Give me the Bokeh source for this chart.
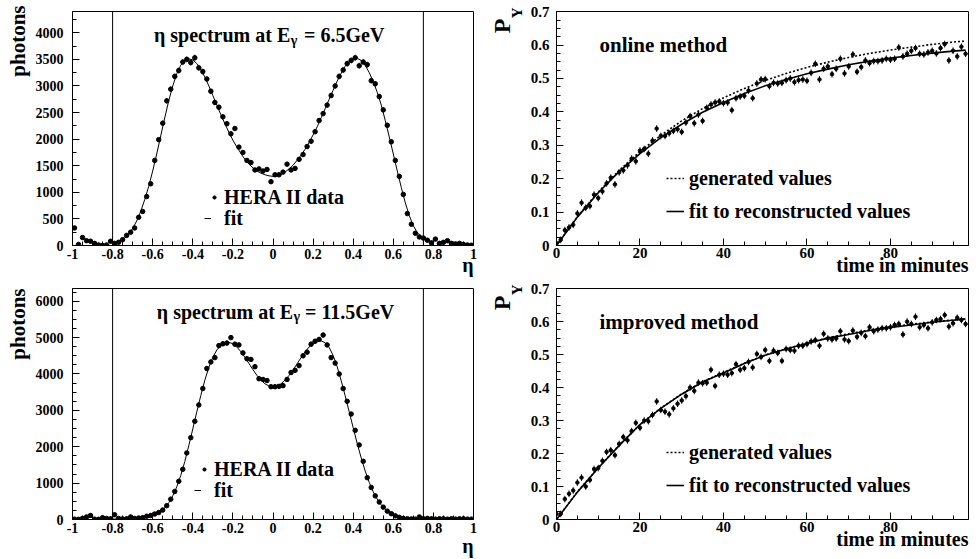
import numpy as np
from bokeh.plotting import figure
from bokeh.layouts import gridplot
from bokeh.models import Label, Legend, LegendItem, FixedTicker, Span, Range1d, Title
from bokeh.embed import file_html
from bokeh.resources import INLINE

FONT = "Liberation Serif"

# ---------------- data: eta spectra ----------------
eta_bins = [round(-0.99 + 0.02 * i, 2) for i in range(100)]
photons_6p5 = [330, 20, 150, 90, 80, 40, 10, 0, 10, 80,
               40, 60, 110, 190, 250, 330, 530, 640, 920, 1160,
               1600, 1990, 2300, 2720, 2940, 3180, 3290, 3450, 3500, 3440,
               3530, 3340, 3270, 3130, 2900, 2690, 2600, 2420, 2290, 2100,
               2200, 1850, 1750, 1600, 1560, 1420, 1440, 1400, 1430, 1200,
               1330, 1330, 1380, 1530, 1420, 1450, 1620, 1710, 1860, 1960,
               2140, 2350, 2480, 2640, 2820, 3000, 3180, 3300, 3420, 3480,
               3530, 3380, 3450, 3400, 3100, 3040, 2800, 2550, 2260, 1950,
               1600, 1300, 960, 600, 400, 230, 160, 140, 100, 50,
               120, 40, 60, 90, 40, 30, 40, 20, 10, 5]
photons_11p5 = [10, 5, 30, 70, 110, 10, 5, 50, 30, 20,
                130, 30, 15, 20, 70, 30, 40, 50, 90, 110,
                150, 190, 260, 380, 560, 770, 1050, 1380, 1830, 2250,
                2700, 3150, 3600, 4150, 4330, 4450, 4780, 4830, 4850, 5000,
                4820, 4800, 4580, 4420, 4400, 4200, 3870, 3850, 3820, 3650,
                3650, 3660, 3680, 3850, 4040, 4100, 4230, 4500, 4600, 4820,
                4900, 4950, 5070, 4800, 4450, 4300, 4000, 3600, 3250, 2900,
                2450, 2050, 1600, 1150, 880, 650, 480, 340, 230, 160,
                100, 60, 30, 20, 15, 10, 70, 20, 30, 20,
                10, 20, 20, 10, 20, 10, 20, 20, 10, 10]
eta_fit = [round(-0.80 + 0.02 * i, 2) for i in range(79)]
fit_6p5 = [15, 40, 80, 140, 220, 320, 460, 640, 860, 1110,
           1400, 1720, 2060, 2400, 2720, 3000, 3230, 3390, 3480, 3510,
           3490, 3420, 3310, 3170, 3000, 2820, 2640, 2460, 2290, 2130,
           1980, 1850, 1730, 1620, 1530, 1460, 1400, 1360, 1330, 1310,
           1300, 1310, 1340, 1380, 1440, 1510, 1600, 1700, 1810, 1940,
           2080, 2230, 2400, 2570, 2750, 2920, 3090, 3240, 3370, 3460,
           3510, 3520, 3480, 3390, 3250, 3080, 2880, 2640, 2350, 2040,
           1720, 1400, 1090, 800, 560, 370, 240, 170, 130]
fit_11p5 = [10, 12, 15, 18, 22, 28, 35, 45, 60, 95,
            125, 170, 230, 320, 460, 650, 900, 1210, 1590, 2030,
            2490, 2960, 3410, 3830, 4180, 4460, 4660, 4790, 4860, 4870,
            4830, 4740, 4610, 4460, 4290, 4120, 3960, 3830, 3730, 3670,
            3650, 3670, 3730, 3830, 3960, 4110, 4280, 4450, 4610, 4740,
            4840, 4900, 4910, 4860, 4730, 4510, 4200, 3820, 3400, 2960,
            2520, 2090, 1690, 1330, 1020, 760, 560, 400, 280, 190,
            130, 90, 60, 40, 30, 20, 15, 12, 10]
eta_cuts = [-0.8, 0.75]

# ---------------- data: polarisation build-up ----------------
py_online = [0.007, 0.017, 0.046, 0.054, 0.062, 0.096, 0.128, 0.113, 0.118, 0.152,
             0.142, 0.162, 0.186, 0.203, 0.183, 0.219, 0.225, 0.240, 0.260, 0.252,
             0.284, 0.289, 0.275, 0.314, 0.350, 0.328, 0.328, 0.336, 0.343, 0.348,
             0.340, 0.368, 0.387, 0.366, 0.392, 0.373, 0.412, 0.422, 0.428, 0.431,
             0.426, 0.428, 0.405, 0.441, 0.446, 0.448, 0.464, 0.441, 0.485, 0.497,
             0.498, 0.477, 0.487, 0.485, 0.487, 0.495, 0.500, 0.489, 0.495, 0.497,
             0.493, 0.517, 0.544, 0.497, 0.529, 0.536, 0.513, 0.529, 0.559, 0.515,
             0.536, 0.572, 0.520, 0.534, 0.554, 0.546, 0.552, 0.552, 0.554, 0.559,
             0.556, 0.559, 0.593, 0.566, 0.574, 0.583, 0.591, 0.574, 0.572, 0.578,
             0.583, 0.575, 0.591, 0.603, 0.554, 0.583, 0.566, 0.595, 0.574]
py_improved = [0.017, 0.017, 0.062, 0.078, 0.088, 0.112, 0.127, 0.100, 0.120, 0.153,
               0.156, 0.178, 0.205, 0.210, 0.195, 0.229, 0.250, 0.240, 0.268, 0.293,
               0.278, 0.300, 0.298, 0.317, 0.358, 0.332, 0.327, 0.319, 0.337, 0.351,
               0.361, 0.374, 0.400, 0.390, 0.415, 0.413, 0.415, 0.454, 0.405, 0.439,
               0.442, 0.439, 0.444, 0.471, 0.454, 0.459, 0.478, 0.461, 0.502, 0.493,
               0.514, 0.481, 0.512, 0.505, 0.481, 0.517, 0.514, 0.512, 0.527, 0.527,
               0.532, 0.540, 0.544, 0.527, 0.563, 0.549, 0.546, 0.549, 0.571, 0.546,
               0.541, 0.573, 0.554, 0.566, 0.556, 0.583, 0.571, 0.576, 0.580, 0.580,
               0.583, 0.590, 0.593, 0.561, 0.600, 0.593, 0.615, 0.583, 0.590, 0.580,
               0.598, 0.605, 0.608, 0.620, 0.585, 0.595, 0.612, 0.605, 0.593]
minutes = list(range(len(py_online)))
py_err = 0.01
t_curve = [0, 5, 10, 15, 20, 25, 30, 35, 40, 45, 50, 55, 60, 65, 70, 75, 80, 85, 90, 95, 98]
online_generated = [0, 0.086, 0.160, 0.225, 0.281, 0.330, 0.373, 0.410, 0.442, 0.470, 0.494,
                    0.515, 0.533, 0.549, 0.563, 0.575, 0.585, 0.594, 0.602, 0.609, 0.612]
online_fit = [0, 0.085, 0.158, 0.221, 0.275, 0.323, 0.363, 0.399, 0.428, 0.455, 0.478,
              0.497, 0.514, 0.528, 0.541, 0.552, 0.561, 0.569, 0.576, 0.582, 0.585]
improved_generated = [0, 0.084, 0.157, 0.225, 0.288, 0.338, 0.381, 0.418, 0.446, 0.474, 0.499,
                      0.518, 0.535, 0.551, 0.563, 0.575, 0.584, 0.592, 0.599, 0.605, 0.609]
improved_fit = [0, 0.083, 0.156, 0.224, 0.288, 0.337, 0.380, 0.417, 0.444, 0.473, 0.498,
                0.517, 0.534, 0.550, 0.561, 0.573, 0.582, 0.590, 0.598, 0.604, 0.608]

# ---------------- ticks ----------------
eta_ticks = [-1, -0.8, -0.6, -0.4, -0.2, 0, 0.2, 0.4, 0.6, 0.8, 1]
eta_tick_labels = ["-1", "-0.8", "-0.6", "-0.4", "-0.2", "0", "0.2", "0.4", "0.6", "0.8", "1"]
ph_ticks_top = [0, 500, 1000, 1500, 2000, 2500, 3000, 3500, 4000]
ph_ticks_bot = [0, 1000, 2000, 3000, 4000, 5000, 6000]
t_ticks = [0, 20, 40, 60, 80]
py_ticks = [0, 0.1, 0.2, 0.3, 0.4, 0.5, 0.6, 0.7]
py_tick_labels = ["0", "0.1", "0.2", "0.3", "0.4", "0.5", "0.6", "0.7"]

LEFT_W, RIGHT_W = 482, 494
TOP_H, BOT_H = 279, 280


def style_axis(ax, ticks, minor, labels=None, size="14px", standoff=4):
    ax.ticker = FixedTicker(ticks=ticks, minor_ticks=minor)
    if labels is not None:
        ax.major_label_overrides = {t: l for t, l in zip(ticks, labels)}
    ax.major_tick_in = 7
    ax.major_tick_out = 0
    ax.minor_tick_in = 4
    ax.minor_tick_out = 0
    ax.major_tick_line_color = "black"
    ax.minor_tick_line_color = "black"
    ax.axis_line_color = "black"
    ax.major_label_text_font = FONT
    ax.major_label_text_font_style = "bold"
    ax.major_label_text_font_size = size
    ax.major_label_text_color = "black"
    ax.major_label_standoff = standoff


def make_fig(w, h, xr, yr, bl, br, bt, bb):
    p = figure(width=w, height=h, x_range=Range1d(*xr), y_range=Range1d(*yr),
               output_backend="svg", toolbar_location=None,
               min_border_left=bl, min_border_right=br,
               min_border_top=bt, min_border_bottom=bb)
    p.xgrid.visible = False
    p.ygrid.visible = False
    p.outline_line_color = "black"
    p.outline_line_alpha = 1.0
    p.outline_line_width = 1
    p.background_fill_color = "white"
    p.border_fill_color = "white"
    return p


def txt(p, x, y, s, size="20px", align="left", baseline="alphabetic"):
    p.add_layout(Label(x=x, y=y, text=s, text_font=FONT, text_font_style="bold",
                       text_font_size=size, text_color="black", text_align=align,
                       text_baseline=baseline))


def side_title(p, s, place, size, align, valign, standoff, offset=0):
    t = Title(text=s, align=align, vertical_align=valign, standoff=standoff, offset=offset,
              text_font=FONT, text_font_style="bold", text_font_size=size, text_color="black")
    p.add_layout(t, place)


def legend(p, renderer, label, vx, vy, gw, standoff):
    lg = Legend(items=[LegendItem(label=label, renderers=[renderer])], location=(vx, vy),
                glyph_width=gw, glyph_height=26, label_height=26, label_standoff=standoff,
                padding=0, margin=0, spacing=0, border_line_color=None,
                background_fill_alpha=0.0, label_text_font=FONT,
                label_text_font_style="bold", label_text_font_size="20px",
                label_text_color="black")
    p.add_layout(lg)


def eta_panel(h, ymax, bt, bb, counts, fit, yticks, yminor, energy,
              title_y, gam_y, e_end, eq_start, leg_pos, eta_standoff, phot_offset):
    p = make_fig(LEFT_W, h, (-1, 1), (0, ymax), 66, LEFT_W - 473, bt, bb)
    style_axis(p.xaxis[0], eta_ticks, list(np.arange(-1, 1.0001, 0.05)), eta_tick_labels,
               standoff=3)
    style_axis(p.yaxis[0], yticks, yminor, standoff=9)
    for c in eta_cuts:
        p.add_layout(Span(location=c, dimension="height", line_color="black", line_width=1))
    cnt = np.array(counts, dtype=float)
    err = np.sqrt(cnt)
    p.segment(x0=eta_bins, y0=cnt - err, x1=eta_bins, y1=cnt + err,
              line_color="#666666", line_width=1)
    fit_r = p.line(eta_fit, fit, line_color="black", line_width=1)
    pts = p.scatter(eta_bins, counts, size=4.5, color="black", marker="circle")
    legend(p, pts, "HERA II data", *leg_pos[0])
    legend(p, fit_r, "fit", *leg_pos[1])
    txt(p, e_end, title_y, "η spectrum at E", align="right")
    txt(p, e_end + 0.002, gam_y, "γ", size="14px")
    txt(p, eq_start, title_y, "= " + energy)
    side_title(p, "η", "below", "20px", "right", "top", eta_standoff)
    side_title(p, "photons", "left", "21px", "right", "bottom", 6, phot_offset)
    return p


def py_panel(h, bt, bb, values, gen, fit, title):
    p = make_fig(RIGHT_W, h, (0, 98.7), (0, 0.7005), 556 - LEFT_W, 8, bt, bb)
    style_axis(p.xaxis[0], t_ticks, list(range(0, 99, 5)), size="15px", standoff=2)
    style_axis(p.yaxis[0], py_ticks, list(np.arange(0, 0.7001, 0.025)), py_tick_labels,
               size="15px", standoff=7)
    v = np.array(values)
    p.segment(x0=minutes, y0=v - py_err, x1=minutes, y1=v + py_err,
              line_color="black", line_width=1)
    p.scatter(minutes, values, size=3.5, color="black", marker="circle")
    gen_r = p.line(t_curve, gen, line_color="black", line_width=1.6, line_dash="2 2")
    fit_r = p.line(t_curve, fit, line_color="black", line_width=1.6)
    legend(p, gen_r, "generated values", 110, 54, 18, 5)
    legend(p, fit_r, "fit to reconstructed values", 110, 21, 18, 5)
    txt(p, 10.3, 0.6, title, size="21px")
    side_title(p, "time in minutes", "below", "20px", "right", "top", -14)
    side_title(p, "Y", "left", "15px", "right", "bottom", 6, -4)
    side_title(p, "P", "left", "24px", "right", "bottom", -23, 7)
    return p


p1 = eta_panel(TOP_H, 4400, 11, TOP_H - 245, photons_6p5, fit_6p5, ph_ticks_top,
               list(range(0, 4401, 250)), "6.5GeV",
               3950, 3850, 0.086, 0.155,
               [(138, 35, 8, 6), (132, 14, 7, 13)], -15, -6)
p3 = eta_panel(BOT_H, 6350, 285 - TOP_H, TOP_H + BOT_H - 519, photons_11p5, fit_11p5,
               ph_ticks_bot, list(range(0, 6351, 250)), "11.5GeV",
               5691, 5582, 0.1007, 0.160,
               [(128, 37, 8, 6), (122, 16, 7, 13)], -2, 0)
p2 = py_panel(TOP_H, 9, TOP_H - 245, py_online, online_generated, online_fit, "online method")
p4 = py_panel(BOT_H, 288 - TOP_H, TOP_H + BOT_H - 525, py_improved, improved_generated,
              improved_fit, "improved method")

grid = gridplot([[p1, p2], [p3, p4]], toolbar_location=None)

with open("out.html", "w") as f:
    f.write(file_html(grid, INLINE))
